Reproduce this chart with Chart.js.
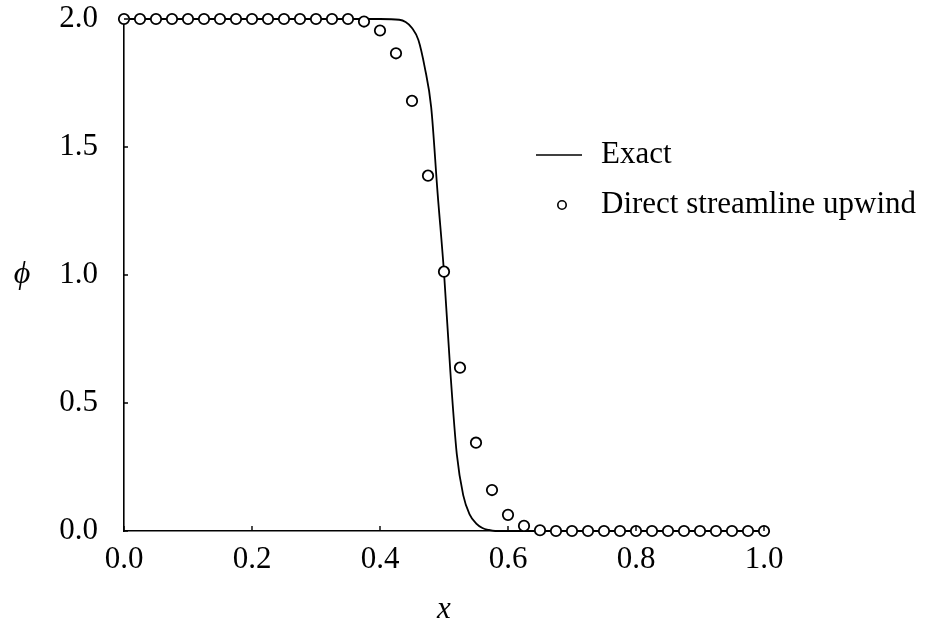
<!DOCTYPE html>
<html>
<head>
<meta charset="utf-8">
<script src="https://cdn.jsdelivr.net/npm/chart.js@4"></script>
<style>
  html, body { margin: 0; padding: 0; background: #fff; }
</style>
</head>
<body>
<canvas id="chart1" width="933" height="625"></canvas>
<script>
// numerical solution (circles)
const numX = [0.000, 0.025, 0.050, 0.075, 0.100, 0.125, 0.150, 0.175, 0.200, 0.225,
              0.250, 0.275, 0.300, 0.325, 0.350, 0.375, 0.400, 0.425, 0.450, 0.475,
              0.500, 0.525, 0.550, 0.575, 0.600, 0.625, 0.650, 0.675, 0.700, 0.725,
              0.750, 0.775, 0.800, 0.825, 0.850, 0.875, 0.900, 0.925, 0.950, 0.975, 1.000];
const numPhi = [2, 2, 2, 2, 2, 2, 2, 2, 2, 2,
                2, 2, 2, 2, 2, 1.99, 1.955, 1.866, 1.68, 1.388,
                1.013, 0.638, 0.345, 0.16, 0.063, 0.02, 0.003, 0, 0, 0,
                0, 0, 0, 0, 0, 0, 0, 0, 0, 0, 0];

// exact solution (solid line)
const exactX = [0, 0.40, 0.43, 0.44, 0.45, 0.46, 0.47, 0.48, 0.49, 0.50,
                0.51, 0.52, 0.53, 0.54, 0.55, 0.56, 0.57, 0.58, 1.0];
const exactPhi = [2, 2, 1.997, 1.988, 1.965, 1.918, 1.81, 1.655, 1.32, 1.01,
                  0.62, 0.30, 0.14, 0.065, 0.03, 0.012, 0.004, 0, 0];

const xTicks = [0, 0.2, 0.4, 0.6, 0.8, 1.0];
const yTicks = [0, 0.5, 1.0, 1.5, 2.0];
const seriesNames = ['Exact', 'Direct streamline upwind'];

const serif = '"Liberation Serif", "Times New Roman", serif';

const decor = {
    id: 'decor',
    afterDraw(chart) {
        const ctx = chart.ctx;
        const area = chart.chartArea;
        const x = chart.scales.x, y = chart.scales.y;
        ctx.save();
        // inward tick marks
        ctx.strokeStyle = '#000';
        ctx.lineWidth = 1.4;
        ctx.beginPath();
        yTicks.forEach(v => {
            const py = y.getPixelForValue(v);
            ctx.moveTo(area.left, py);
            ctx.lineTo(area.left + 4, py);
        });
        xTicks.forEach(v => {
            const px = x.getPixelForValue(v);
            ctx.moveTo(px, area.bottom);
            ctx.lineTo(px, area.bottom - 5);
        });
        ctx.stroke();

        // y axis title, not rotated
        ctx.fillStyle = '#000';
        ctx.font = 'italic 32px ' + serif;
        ctx.textAlign = 'center';
        ctx.textBaseline = 'middle';
        ctx.fillText('\u03D5', 22, (area.top + area.bottom) / 2);

        // legend
        ctx.font = '31px ' + serif;
        ctx.textAlign = 'left';
        ctx.lineWidth = 1.6;
        ctx.beginPath();
        ctx.moveTo(536, 155);
        ctx.lineTo(582, 155);
        ctx.stroke();
        ctx.fillText(seriesNames[0], 601, 155);
        ctx.beginPath();
        ctx.arc(562, 205, 4.2, 0, Math.PI * 2);
        ctx.fillStyle = '#fff';
        ctx.fill();
        ctx.stroke();
        ctx.fillStyle = '#000';
        ctx.fillText(seriesNames[1], 601, 205);
        ctx.restore();
    }
};

new Chart(document.getElementById('chart1').getContext('2d'), {
    type: 'line',
    data: {
        datasets: [
            {
                label: seriesNames[0],
                data: exactX.map((v, i) => ({x: v, y: exactPhi[i]})),
                borderColor: '#000',
                borderWidth: 1.8,
                pointRadius: 0,
                cubicInterpolationMode: 'monotone',
                clip: false,
                order: 2
            },
            {
                label: seriesNames[1],
                data: numX.map((v, i) => ({x: v, y: numPhi[i]})),
                showLine: false,
                pointRadius: 5.2,
                pointBorderWidth: 1.8,
                pointBorderColor: '#000',
                pointBackgroundColor: '#fff',
                clip: false,
                order: 1
            }
        ]
    },
    options: {
        responsive: false,
        animation: false,
        devicePixelRatio: 1,
        layout: {padding: {left: 0, top: 19, right: 169, bottom: 0}},
        plugins: {legend: {display: false}, tooltip: {enabled: false}},
        scales: {
            x: {
                type: 'linear',
                min: 0, max: 1,
                afterFit: s => { s.height = 94; s.paddingLeft = 0; s.paddingRight = 0; },
                afterBuildTicks: s => { s.ticks = xTicks.map(v => ({value: v})); },
                grid: {display: false, drawTicks: false},
                border: {color: '#000', width: 1.6},
                ticks: {
                    padding: 10,
                    color: '#000',
                    font: {family: serif, size: 31},
                    maxRotation: 0,
                    callback: v => v.toFixed(1)
                },
                title: {
                    display: true,
                    text: 'x',
                    color: '#000',
                    font: {family: serif, size: 31, style: 'italic', lineHeight: 1.0},
                    padding: {top: 0, bottom: 0}
                }
            },
            y: {
                type: 'linear',
                min: 0, max: 2,
                afterFit: s => { s.width = 124; s.paddingTop = 0; s.paddingBottom = 0; },
                afterBuildTicks: s => { s.ticks = yTicks.map(v => ({value: v})); },
                grid: {display: false, drawTicks: false},
                border: {color: '#000', width: 1.6},
                ticks: {
                    padding: 26,
                    color: '#000',
                    font: {family: serif, size: 31},
                    callback: v => v.toFixed(1)
                }
            }
        }
    },
    plugins: [decor]
});
</script>
</body>
</html>
